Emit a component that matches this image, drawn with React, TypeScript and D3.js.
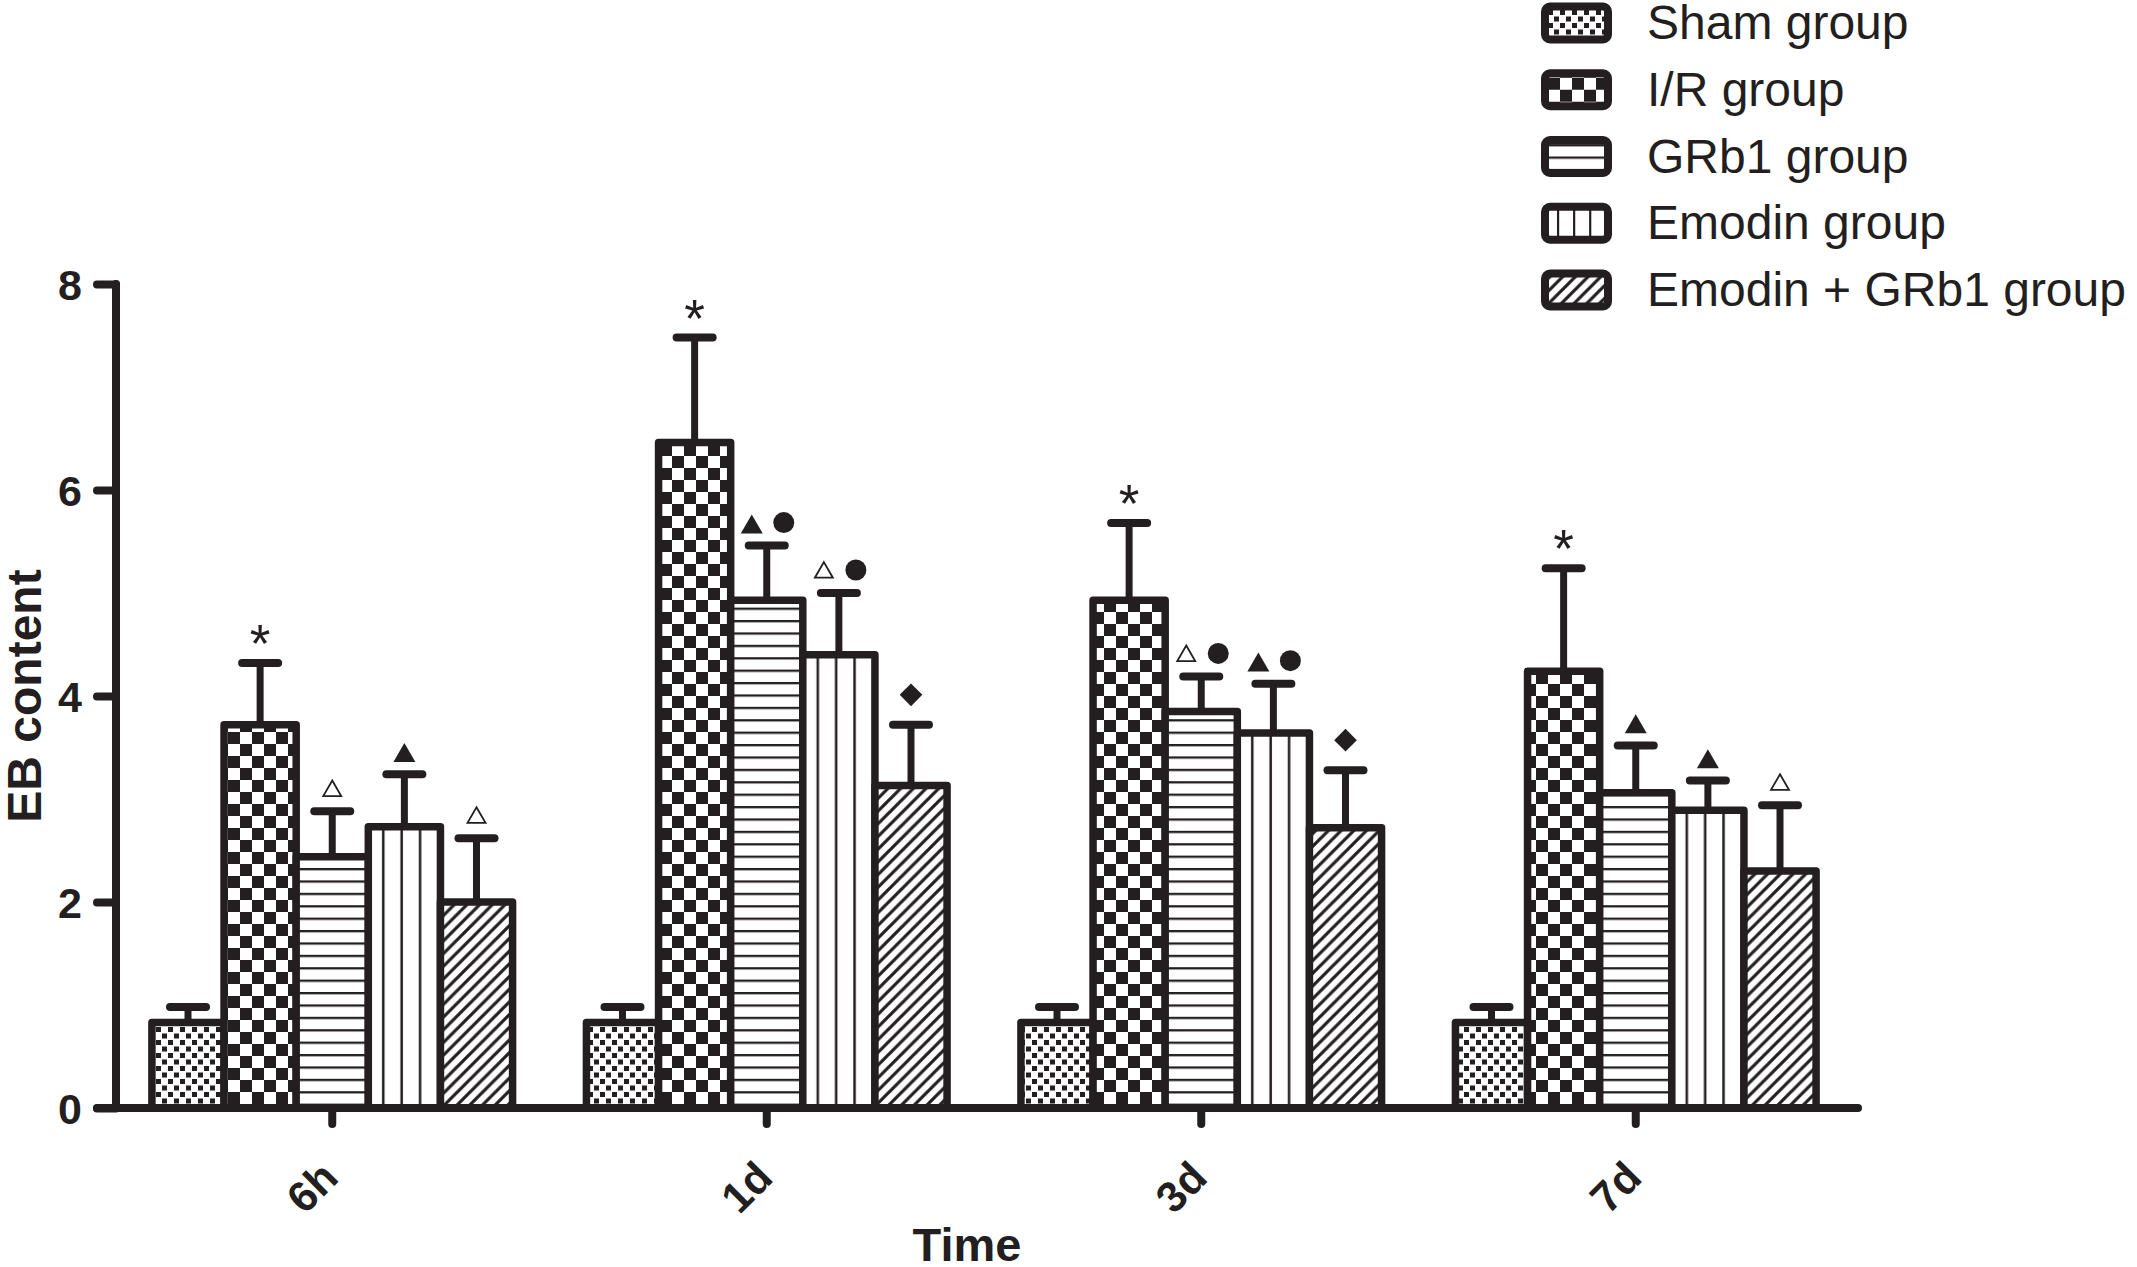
import React, { useEffect, useRef } from 'react'
import * as d3 from 'd3'

const timePoints = ['6h', '1d', '3d', '7d']
const groups = ['Sham group', 'I/R group', 'GRb1 group', 'Emodin group', 'Emodin + GRb1 group']

const shamMeans = [0.83, 0.83, 0.83, 0.83]
const shamErrors = [0.15, 0.15, 0.15, 0.15]
const irMeans = [3.72, 6.46, 4.93, 4.24]
const irErrors = [0.6, 1.02, 0.75, 1.0]
const grb1Means = [2.44, 4.93, 3.85, 3.06]
const grb1Errors = [0.44, 0.53, 0.34, 0.46]
const emodinMeans = [2.73, 4.4, 3.64, 2.89]
const emodinErrors = [0.51, 0.6, 0.48, 0.29]
const comboMeans = [2.0, 3.13, 2.72, 2.3]
const comboErrors = [0.62, 0.59, 0.56, 0.64]

const shamMarks = ['', '', '', '']
const irMarks = ['*', '*', '*', '*']
const grb1Marks = ['△', '▲●', '△●', '▲']
const emodinMarks = ['▲', '△●', '▲●', '▲']
const comboMarks = ['△', '◆', '◆', '△']

const yTicks = [0, 2, 4, 6, 8]

export default function App() {
  const svgRef = useRef<SVGSVGElement>(null)

  useEffect(() => {
    if (!svgRef.current) return
    const width = 2137
    const height = 1267
    const ink = '#231f20'
    const font = "Arial, 'Liberation Sans', Helvetica, sans-serif"

    const series = [
      { name: groups[0], means: shamMeans, errors: shamErrors, marks: shamMarks, fill: 'url(#p-sham)' },
      { name: groups[1], means: irMeans, errors: irErrors, marks: irMarks, fill: 'url(#p-ir)' },
      { name: groups[2], means: grb1Means, errors: grb1Errors, marks: grb1Marks, fill: 'url(#p-grb1)' },
      { name: groups[3], means: emodinMeans, errors: emodinErrors, marks: emodinMarks, fill: 'url(#p-emodin)' },
      { name: groups[4], means: comboMeans, errors: comboErrors, marks: comboMarks, fill: 'url(#p-combo)' }
    ]

    const svg = d3.select(svgRef.current)
    svg.selectAll('*').remove()
    svg.attr('width', width).attr('height', height)
      .attr('viewBox', `0 0 ${width} ${height}`)
      .style('font-family', font)

    svg.append('rect').attr('width', width).attr('height', height).attr('fill', '#fff')

    // fill patterns
    const defs = svg.append('defs')

    const sham = defs.append('pattern').attr('id', 'p-sham')
      .attr('patternUnits', 'userSpaceOnUse').attr('width', 12).attr('height', 13)
    sham.append('rect').attr('width', 12).attr('height', 13).attr('fill', '#fff')
    sham.append('rect').attr('x', 0).attr('y', 0).attr('width', 5).attr('height', 5).attr('fill', ink)
    sham.append('rect').attr('x', 6).attr('y', 6.5).attr('width', 5).attr('height', 5).attr('fill', ink)

    const ir = defs.append('pattern').attr('id', 'p-ir')
      .attr('patternUnits', 'userSpaceOnUse').attr('width', 24).attr('height', 24)
    ir.append('rect').attr('width', 24).attr('height', 24).attr('fill', '#fff')
    ir.append('rect').attr('x', 0).attr('y', 0).attr('width', 12).attr('height', 12).attr('fill', ink)
    ir.append('rect').attr('x', 12).attr('y', 12).attr('width', 12).attr('height', 12).attr('fill', ink)

    const grb1 = defs.append('pattern').attr('id', 'p-grb1')
      .attr('patternUnits', 'userSpaceOnUse').attr('width', 20).attr('height', 12.4)
    grb1.append('rect').attr('width', 20).attr('height', 12.4).attr('fill', '#fff')
    grb1.append('rect').attr('y', 0).attr('width', 20).attr('height', 2.3).attr('fill', ink)

    const emodin = defs.append('pattern').attr('id', 'p-emodin')
      .attr('patternUnits', 'objectBoundingBox').attr('patternContentUnits', 'objectBoundingBox')
      .attr('width', 1).attr('height', 1)
    emodin.append('rect').attr('width', 1).attr('height', 1).attr('fill', '#fff')
    ;[0.19, 0.445, 0.7].forEach(p => {
      emodin.append('rect').attr('x', p).attr('y', 0).attr('width', 0.035).attr('height', 1).attr('fill', ink)
    })

    const s = 12.7
    const combo = defs.append('pattern').attr('id', 'p-combo')
      .attr('patternUnits', 'userSpaceOnUse').attr('width', s).attr('height', s)
    combo.append('rect').attr('width', s).attr('height', s).attr('fill', '#fff')
    combo.append('path')
      .attr('d', `M-3,${s + 3}L${s + 3},-3M-3,3L3,-3M${s - 3},${s + 3}L${s + 3},${s - 3}`)
      .attr('stroke', ink).attr('stroke-width', 3.2)

    // scales
    const x0 = d3.scaleBand().domain(timePoints).range([115, 1853])
      .paddingInner(0.17).paddingOuter(0.085)
    const x1 = d3.scaleBand().domain(groups).range([0, x0.bandwidth()])
    const y = d3.scaleLinear().domain([0, 8]).range([1108, 284])

    // bars
    const barG = svg.append('g')
    series.forEach(sr => {
      barG.append('g').selectAll('rect')
        .data(timePoints)
        .join('rect')
        .attr('x', t => x0(t)! + x1(sr.name)!)
        .attr('y', (t, i) => y(sr.means[i]))
        .attr('width', x1.bandwidth())
        .attr('height', (t, i) => y(0) - y(sr.means[i]))
        .attr('fill', sr.fill)
        .attr('stroke', ink)
        .attr('stroke-width', 7.5)
        .attr('stroke-linejoin', 'round')
    })

    // error bars (upper only)
    const errG = svg.append('g').attr('stroke', ink)
    series.forEach(sr => {
      timePoints.forEach((t, i) => {
        const cx = x0(t)! + x1(sr.name)! + x1.bandwidth() / 2
        const top = y(sr.means[i] + sr.errors[i])
        errG.append('line')
          .attr('x1', cx).attr('x2', cx)
          .attr('y1', y(sr.means[i])).attr('y2', top)
          .attr('stroke-width', 7)
        errG.append('line')
          .attr('x1', cx - 18).attr('x2', cx + 18)
          .attr('y1', top).attr('y2', top)
          .attr('stroke-width', 8).attr('stroke-linecap', 'round')
      })
    })

    // significance marks
    const markG = svg.append('g')
    series.forEach(sr => {
      timePoints.forEach((t, i) => {
        const chars = Array.from(sr.marks[i])
        if (!chars.length) return
        const cx = x0(t)! + x1(sr.name)! + x1.bandwidth() / 2
        const capY = y(sr.means[i] + sr.errors[i])
        const offsets = chars.length === 1 ? [0] : [-15, 17]
        chars.forEach((c, k) => {
          const mx = cx + offsets[k]
          if (c === '*') {
            markG.append('text')
              .attr('x', mx).attr('y', capY - 1)
              .attr('text-anchor', 'middle')
              .attr('font-size', 53)
              .attr('fill', ink)
              .text('*')
          } else if (c === '▲') {
            markG.append('path')
              .attr('d', d3.symbol(d3.symbolTriangle, 209)()!)
              .attr('transform', `translate(${mx},${capY - 18.5})`)
              .attr('fill', ink)
          } else if (c === '△') {
            markG.append('path')
              .attr('d', d3.symbol(d3.symbolTriangle, 140)()!)
              .attr('transform', `translate(${mx},${capY - 20.5})`)
              .attr('fill', '#fff').attr('stroke', ink).attr('stroke-width', 1.8)
          } else if (c === '●') {
            markG.append('path')
              .attr('d', d3.symbol(d3.symbolCircle, 346)()!)
              .attr('transform', `translate(${mx},${capY - 23})`)
              .attr('fill', ink)
          } else if (c === '◆') {
            markG.append('path')
              .attr('d', d3.symbol(d3.symbolSquare, 256)()!)
              .attr('transform', `translate(${mx},${capY - 30}) rotate(45)`)
              .attr('fill', ink)
          }
        })
      })
    })

    // y axis
    const yAxis = svg.append('g')
      .attr('transform', `translate(116,0)`)
      .call(d3.axisLeft(y).tickValues(yTicks).tickSize(19).tickPadding(15).tickFormat(d3.format('d')))
    yAxis.select('.domain').remove()
    yAxis.selectAll('.tick line')
      .attr('stroke', ink).attr('stroke-width', 8).attr('stroke-linecap', 'round')
    yAxis.selectAll('.tick text')
      .attr('fill', ink).attr('font-size', 43).attr('font-weight', 'bold')
      .attr('font-family', font)
      .attr('dy', '0.36em')
    svg.append('line')
      .attr('x1', 116).attr('x2', 116).attr('y1', y(0)).attr('y2', y(8))
      .attr('stroke', ink).attr('stroke-width', 8).attr('stroke-linecap', 'round')

    // x axis
    const xAxis = svg.append('g')
      .attr('transform', `translate(0,${y(0)})`)
      .call(d3.axisBottom(x0).tickSize(16).tickSizeOuter(0))
    xAxis.select('.domain').remove()
    xAxis.selectAll('.tick line')
      .attr('stroke', ink).attr('stroke-width', 8).attr('stroke-linecap', 'round')
    xAxis.selectAll('.tick text')
      .attr('fill', ink).attr('font-size', 43).attr('font-weight', 'bold')
      .attr('font-family', font)
      .attr('y', 0).attr('dy', 0).attr('text-anchor', 'end')
      .attr('transform', 'translate(8,72) rotate(-45)')
    svg.append('line')
      .attr('x1', 97).attr('x2', 1858).attr('y1', y(0)).attr('y2', y(0))
      .attr('stroke', ink).attr('stroke-width', 8).attr('stroke-linecap', 'round')

    // axis titles
    svg.append('text')
      .attr('transform', `translate(41,${(y(0) + y(8)) / 2}) rotate(-90)`)
      .attr('text-anchor', 'middle')
      .attr('font-size', 48).attr('font-weight', 'bold').attr('fill', ink)
      .text('EB content')
    svg.append('text')
      .attr('x', 967).attr('y', 1261)
      .attr('text-anchor', 'middle')
      .attr('font-size', 47).attr('font-weight', 'bold').attr('fill', ink)
      .text('Time')

    // legend
    const ly = d3.scalePoint().domain(groups).range([23, 290])
    const legend = svg.append('g')
      .selectAll('g')
      .data(series)
      .join('g')
      .attr('transform', d => `translate(0,${ly(d.name)})`)
    legend.append('rect')
      .attr('x', 1545).attr('y', -16.5).attr('width', 63).attr('height', 33)
      .attr('rx', 5)
      .attr('fill', d => d.fill)
      .attr('stroke', ink).attr('stroke-width', 8)
    legend.append('text')
      .attr('x', 1647).attr('y', 16)
      .attr('font-size', 48).attr('fill', ink)
      .text(d => d.name)
  }, [])

  return (
    <svg ref={svgRef} style={{ position: 'absolute', left: 0, top: 0, display: 'block' }}></svg>
  )
}
